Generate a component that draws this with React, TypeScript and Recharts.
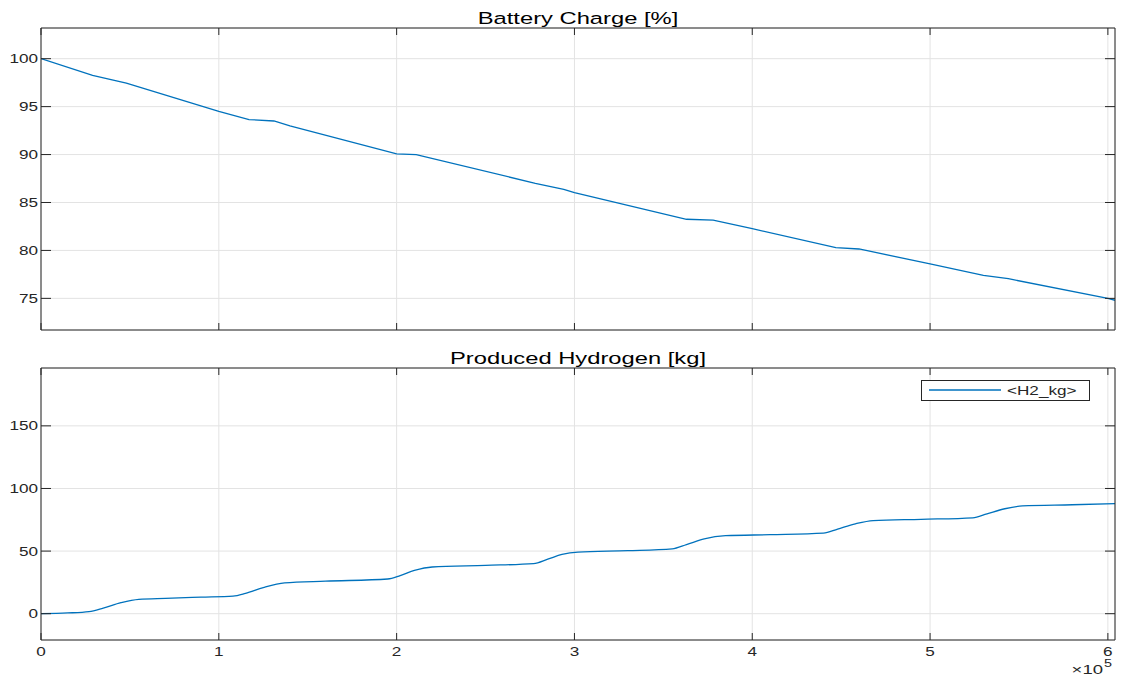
import React from 'react'
import { LineChart, Line, XAxis, YAxis, CartesianGrid, Legend } from 'recharts'

// battery state of charge over time (x in raw units, labelled as x10^5)
const batteryTime = [0, 29000, 40000, 48000, 100000, 117000, 131000, 140000, 200000, 211000, 278000, 294000, 300000, 363000, 378000, 400000, 447000, 460000, 500000, 530000, 544000, 600000, 604000]
const batteryCharge = [100, 98.25, 97.8, 97.45, 94.5, 93.65, 93.5, 93.0, 90.07, 90.0, 87.0, 86.38, 86.03, 83.25, 83.15, 82.27, 80.3, 80.15, 78.6, 77.4, 77.05, 75.0, 74.8]

// produced hydrogen [kg]
const h2Time = [0, 15000, 27000, 35000, 45000, 55000, 70000, 90000, 108000, 115000, 125000, 137000, 160000, 195000, 202000, 210000, 220000, 250000, 277000, 285000, 293000, 302000, 330000, 355000, 363000, 373000, 385000, 410000, 440000, 448000, 458000, 468000, 495000, 524000, 532000, 542000, 552000, 580000, 604000]
const h2Kg = [0, 0.6, 1.7, 4.5, 8.8, 11.5, 12.3, 13.2, 14.0, 16.2, 20.8, 24.6, 26.0, 27.7, 30.4, 34.5, 37.3, 38.6, 40.0, 43.5, 47.3, 49.2, 50.3, 51.8, 55.2, 59.8, 62.3, 63.1, 64.3, 67.6, 71.8, 74.4, 75.4, 76.6, 79.8, 83.8, 86.1, 87.0, 87.9]

const timeTicks = [0, 100000, 200000, 300000, 400000, 500000, 600000]
const timeLabels = ['0', '1', '2', '3', '4', '5', '6']
const batteryTicks = [75, 80, 85, 90, 95, 100]
const h2Ticks = [0, 50, 100, 150]

const batteryData = batteryTime.map((t, i) => ({ t, charge: batteryCharge[i] }))
const h2Data = h2Time.map((t, i) => ({ t, h2: h2Kg[i] }))

const W = 1121
const H = 679
const AX = '#262626'
const GRID = '#e3e3e3'
const BLUE = '#0072BD'
const FONT = '"Liberation Sans", Arial, sans-serif'
const SX = 1.37 // the source figure is stretched horizontally
const X_MAX = 604000

const xTick = (showLabel: boolean) => (p: any) => {
  const { x, y, payload } = p
  const i = timeTicks.indexOf(payload.value)
  return (
    <g>
      <line x1={x} x2={x} y1={y} y2={y - 7} stroke={AX} />
      {showLabel && (
        <text transform={`translate(${x},${y + 16}) scale(${SX},1)`} textAnchor="middle" fontFamily={FONT} fontSize={12.5} fill={AX}>
          {timeLabels[i]}
        </text>
      )}
    </g>
  )
}

const topTick = (p: any) => <line x1={p.x} x2={p.x} y1={p.y} y2={p.y + 7} stroke={AX} />

const leftTick = (p: any) => {
  const { x, y, payload } = p
  return (
    <g>
      <line x1={x} x2={x + 10} y1={y} y2={y} stroke={AX} />
      <text transform={`translate(${x - 3},${y + 4.5}) scale(${SX},1)`} textAnchor="end" fontFamily={FONT} fontSize={12.5} fill={AX}>
        {payload.value}
      </text>
    </g>
  )
}

const rightTick = (p: any) => <line x1={p.x} x2={p.x - 10} y1={p.y} y2={p.y} stroke={AX} />

const axisCommon = {
  type: 'number' as const,
  allowDataOverflow: true,
  interval: 0 as const,
  tickSize: 0,
  tickMargin: 0,
  tickLine: false,
  axisLine: { stroke: AX },
}

function LegendBox() {
  return (
    <div style={{ boxSizing: 'border-box', width: 169, height: 21, border: `1px solid ${AX}`, background: '#fff' }}>
      <svg width={167} height={19} style={{ display: 'block' }}>
        <line x1={7} x2={79} y1={9} y2={9} stroke={BLUE} strokeWidth={1.3} />
        <text transform={`translate(85,13.5) scale(${SX},1)`} fontFamily={FONT} fontSize={12.5} fill={AX}>
          {'<H2_kg>'}
        </text>
      </svg>
    </div>
  )
}

export default function App() {
  return (
    <div style={{ position: 'absolute', left: 0, top: 0, width: W, height: H, background: '#fff' }}>
      <div style={{ position: 'absolute', left: 0, top: 0 }}>
        <LineChart width={W} height={340} data={batteryData} margin={{ top: 18, right: 0, bottom: 0, left: 0 }}>
          <CartesianGrid stroke={GRID} />
          <XAxis dataKey="t" domain={[0, X_MAX]} ticks={timeTicks} height={10} tick={xTick(false)} {...axisCommon} />
          <XAxis xAxisId="top" orientation="top" dataKey="t" domain={[0, X_MAX]} ticks={timeTicks} height={10} tick={topTick} {...axisCommon} />
          <YAxis domain={[71.7, 103.2]} ticks={batteryTicks} width={41} tick={leftTick} {...axisCommon} />
          <YAxis yAxisId="right" orientation="right" domain={[71.7, 103.2]} ticks={batteryTicks} width={6} tick={rightTick} {...axisCommon} />
          <Line dataKey="charge" type="linear" stroke={BLUE} strokeWidth={1.3} dot={false} isAnimationActive={false} />
        </LineChart>
      </div>
      <div style={{ position: 'absolute', left: 0, top: 340 }}>
        <LineChart width={W} height={339} data={h2Data} margin={{ top: 18, right: 0, bottom: 0, left: 0 }}>
          <CartesianGrid stroke={GRID} />
          <XAxis dataKey="t" domain={[0, X_MAX]} ticks={timeTicks} height={39} tick={xTick(true)} {...axisCommon} />
          <XAxis xAxisId="top" orientation="top" dataKey="t" domain={[0, X_MAX]} ticks={timeTicks} height={10} tick={topTick} {...axisCommon} />
          <YAxis domain={[-21, 196.2]} ticks={h2Ticks} width={41} tick={leftTick} {...axisCommon} />
          <YAxis yAxisId="right" orientation="right" domain={[-21, 196.2]} ticks={h2Ticks} width={6} tick={rightTick} {...axisCommon} />
          <Legend
            layout="vertical"
            align="center"
            verticalAlign="middle"
            wrapperStyle={{ position: 'absolute', left: 921, top: 40, width: 169, height: 21 }}
            content={() => <LegendBox />}
          />
          <Line dataKey="h2" name="<H2_kg>" type="monotone" stroke={BLUE} strokeWidth={1.3} dot={false} isAnimationActive={false} />
        </LineChart>
      </div>
      <svg width={W} height={H} style={{ position: 'absolute', left: 0, top: 0, pointerEvents: 'none' }}>
        <text transform="translate(578,24) scale(1.44,1)" textAnchor="middle" fontFamily={FONT} fontSize={16.5} fill="#000">
          Battery Charge [%]
        </text>
        <text transform="translate(578,364) scale(1.44,1)" textAnchor="middle" fontFamily={FONT} fontSize={16.5} fill="#000">
          Produced Hydrogen [kg]
        </text>
        <text transform={`translate(1103,674) scale(${SX},1)`} textAnchor="end" fontFamily={FONT} fontSize={13.5} fill={AX}>
          ×10
        </text>
        <text transform={`translate(1104,667) scale(${SX},1)`} fontFamily={FONT} fontSize={10.5} fill={AX}>
          5
        </text>
      </svg>
    </div>
  )
}
